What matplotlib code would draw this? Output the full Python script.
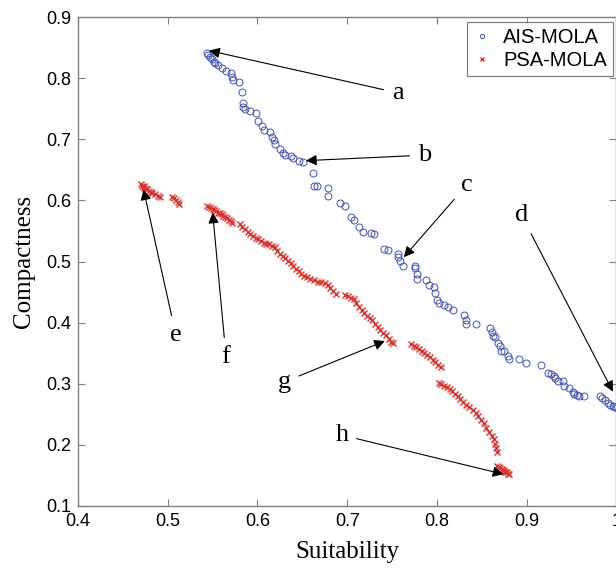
import matplotlib.pyplot as plt
from matplotlib.ticker import FuncFormatter

# AIS-MOLA (blue circles): suitability, compactness
AIS_X = [0.544, 0.545, 0.547, 0.549, 0.551, 0.553, 0.556, 0.560, 0.565, 0.570,
         0.572, 0.573, 0.579, 0.583, 0.584, 0.584, 0.586, 0.592, 0.598, 0.601,
         0.605, 0.607, 0.614, 0.616, 0.618, 0.620, 0.625, 0.628, 0.631, 0.637,
         0.640, 0.646, 0.651, 0.662, 0.663, 0.666, 0.678, 0.679, 0.692, 0.698,
         0.704, 0.707, 0.713, 0.717, 0.726, 0.730, 0.741, 0.745, 0.756, 0.757,
         0.759, 0.762, 0.776, 0.776, 0.778, 0.778, 0.788, 0.791, 0.797, 0.798,
         0.800, 0.802, 0.808, 0.812, 0.818, 0.830, 0.832, 0.832, 0.844, 0.859,
         0.861, 0.862, 0.865, 0.868, 0.870, 0.871, 0.875, 0.879, 0.880, 0.891,
         0.899, 0.916, 0.924, 0.927, 0.930, 0.932, 0.935, 0.940, 0.942, 0.947,
         0.951, 0.953, 0.956, 0.958, 0.964, 0.982, 0.984, 0.987, 0.990, 0.993,
         0.996, 0.998, 1.000]
AIS_Y = [0.841, 0.838, 0.835, 0.832, 0.827, 0.825, 0.822, 0.816, 0.812, 0.809,
         0.802, 0.797, 0.793, 0.778, 0.760, 0.753, 0.749, 0.747, 0.743, 0.730,
         0.722, 0.715, 0.712, 0.704, 0.699, 0.693, 0.684, 0.677, 0.674, 0.672,
         0.669, 0.665, 0.662, 0.644, 0.624, 0.624, 0.620, 0.607, 0.595, 0.591,
         0.573, 0.568, 0.557, 0.549, 0.547, 0.545, 0.520, 0.518, 0.513, 0.507,
         0.501, 0.493, 0.492, 0.489, 0.480, 0.471, 0.470, 0.462, 0.458, 0.449,
         0.437, 0.432, 0.429, 0.425, 0.420, 0.413, 0.405, 0.397, 0.397, 0.391,
         0.385, 0.378, 0.376, 0.366, 0.362, 0.354, 0.354, 0.346, 0.340, 0.340,
         0.334, 0.331, 0.318, 0.316, 0.313, 0.309, 0.304, 0.304, 0.297, 0.293,
         0.287, 0.283, 0.282, 0.280, 0.280, 0.280, 0.276, 0.273, 0.268, 0.266,
         0.263, 0.262, 0.260]

# PSA-MOLA (red crosses)
PSA_X = [0.470, 0.471, 0.473, 0.474, 0.476, 0.477, 0.479, 0.481, 0.483, 0.486,
         0.489, 0.491, 0.505, 0.507, 0.509, 0.511, 0.513,
         0.544, 0.546, 0.548, 0.550, 0.552, 0.554, 0.556, 0.558, 0.560, 0.562,
         0.564, 0.566, 0.568, 0.570, 0.572,
         0.580, 0.583, 0.586, 0.589, 0.592, 0.595, 0.598, 0.601, 0.604, 0.607,
         0.610, 0.613, 0.616, 0.619, 0.622, 0.625, 0.628, 0.631, 0.634, 0.637,
         0.640, 0.643, 0.646, 0.649, 0.652, 0.655, 0.659, 0.663, 0.667, 0.671,
         0.675, 0.678, 0.681, 0.684, 0.687,
         0.698, 0.701, 0.704, 0.707, 0.710, 0.713, 0.716, 0.719, 0.722, 0.725,
         0.728, 0.731, 0.734, 0.737, 0.740, 0.743, 0.746, 0.749, 0.751,
         0.771, 0.774, 0.777, 0.780, 0.783, 0.786, 0.789, 0.792, 0.795, 0.798,
         0.801, 0.804,
         0.802, 0.805, 0.808, 0.811, 0.814, 0.817, 0.820, 0.823, 0.826, 0.829,
         0.832, 0.836, 0.840, 0.843, 0.846, 0.849, 0.852, 0.855, 0.858, 0.861,
         0.863, 0.865, 0.866, 0.867,
         0.867, 0.869, 0.870, 0.872, 0.873, 0.875, 0.876, 0.878, 0.879, 0.880]
PSA_Y = [0.626, 0.624, 0.623, 0.621, 0.619, 0.618, 0.616, 0.614, 0.612, 0.610,
         0.607, 0.605, 0.606, 0.604, 0.601, 0.598, 0.594,
         0.591, 0.589, 0.588, 0.586, 0.584, 0.582, 0.580, 0.579, 0.577, 0.575,
         0.573, 0.571, 0.568, 0.566, 0.563,
         0.561, 0.557, 0.553, 0.549, 0.545, 0.542, 0.539, 0.536, 0.533, 0.531,
         0.529, 0.528, 0.526, 0.523, 0.517, 0.513, 0.509, 0.505, 0.501, 0.497,
         0.492, 0.488, 0.484, 0.480, 0.477, 0.474, 0.471, 0.469, 0.467, 0.466,
         0.465, 0.461, 0.457, 0.452, 0.447,
         0.445, 0.443, 0.441, 0.439, 0.432, 0.426, 0.420, 0.415, 0.411, 0.408,
         0.404, 0.398, 0.393, 0.388, 0.383, 0.379, 0.374, 0.369, 0.366,
         0.365, 0.362, 0.360, 0.357, 0.354, 0.351, 0.347, 0.343, 0.339, 0.335,
         0.331, 0.328,
         0.302, 0.300, 0.297, 0.294, 0.291, 0.288, 0.284, 0.280, 0.275, 0.270,
         0.266, 0.262, 0.257, 0.252, 0.247, 0.241, 0.235, 0.228, 0.221, 0.215,
         0.209, 0.202, 0.195, 0.188,
         0.166, 0.164, 0.162, 0.160, 0.159, 0.157, 0.156, 0.155, 0.153, 0.152]

# annotation letters: (label, text position, arrow tip)
LABELS = ["a", "b", "c", "d", "e", "f", "g", "h"]
TEXT_XY = [(0.756, 0.776), (0.786, 0.674), (0.833, 0.625), (0.894, 0.576),
           (0.509, 0.380), (0.565, 0.344), (0.630, 0.303), (0.694, 0.216)]
TIP_XY = [(0.546, 0.845), (0.654, 0.665), (0.763, 0.507), (0.996, 0.287),
          (0.473, 0.618), (0.550, 0.580), (0.742, 0.370), (0.874, 0.152)]

SERIF = ["Liberation Serif", "DejaVu Serif"]
SANS = ["Liberation Sans", "DejaVu Sans"]

fig = plt.figure(figsize=(6.16, 5.71), dpi=100)
ax = fig.add_axes([78 / 616, 1 - 506 / 571, (616.5 - 78) / 616, (506 - 17) / 571])

ax.plot(AIS_X, AIS_Y, "o", ms=5.0, mfc="none", mec="#3f51bd", mew=0.7,
        label="AIS-MOLA")
ax.plot(PSA_X, PSA_Y, "x", ms=4.3, color="#e4302a", mew=1.0,
        label="PSA-MOLA")

for lab, txy, pxy in zip(LABELS, TEXT_XY, TIP_XY):
    ax.annotate(lab, xy=pxy, xytext=txy, ha="center", va="center",
                fontsize=19, family=SERIF,
                arrowprops=dict(arrowstyle="-|>", color="k", lw=0.8,
                                mutation_scale=16, shrinkA=4, shrinkB=0))

ax.set_xlim(0.4, 1.0)
ax.set_ylim(0.1, 0.9)
ax.set_xticks([0.4, 0.5, 0.6, 0.7, 0.8, 0.9, 1.0])
ax.set_yticks([0.1, 0.2, 0.3, 0.4, 0.5, 0.6, 0.7, 0.8, 0.9])
fmt = FuncFormatter(lambda v, p: f"{v:g}")
ax.xaxis.set_major_formatter(fmt)
ax.yaxis.set_major_formatter(fmt)
ax.tick_params(direction="in", length=5, width=0.8, color="#808080",
               top=True, right=True, labelsize=13, pad=5)
for t in ax.get_xticklabels() + ax.get_yticklabels():
    t.set_family(SANS)
for s in ax.spines.values():
    s.set_color("#808080")
    s.set_linewidth(1.0)

ax.set_xlabel("Suitability", fontsize=18, family=SERIF, labelpad=8)
ax.set_ylabel("Compactness", fontsize=18, family=SERIF, labelpad=8)

leg = ax.legend(loc="upper right", bbox_to_anchor=(0.993, 0.99),
                prop={"family": SANS, "size": 14.5}, fancybox=False,
                borderpad=0.3, handlelength=0.9, handletextpad=0.6,
                labelspacing=0.2, borderaxespad=0.0, markerscale=0.6)
leg.get_frame().set_edgecolor("#555555")
leg.get_frame().set_linewidth(0.8)

fig.savefig("out.png", dpi=100)
